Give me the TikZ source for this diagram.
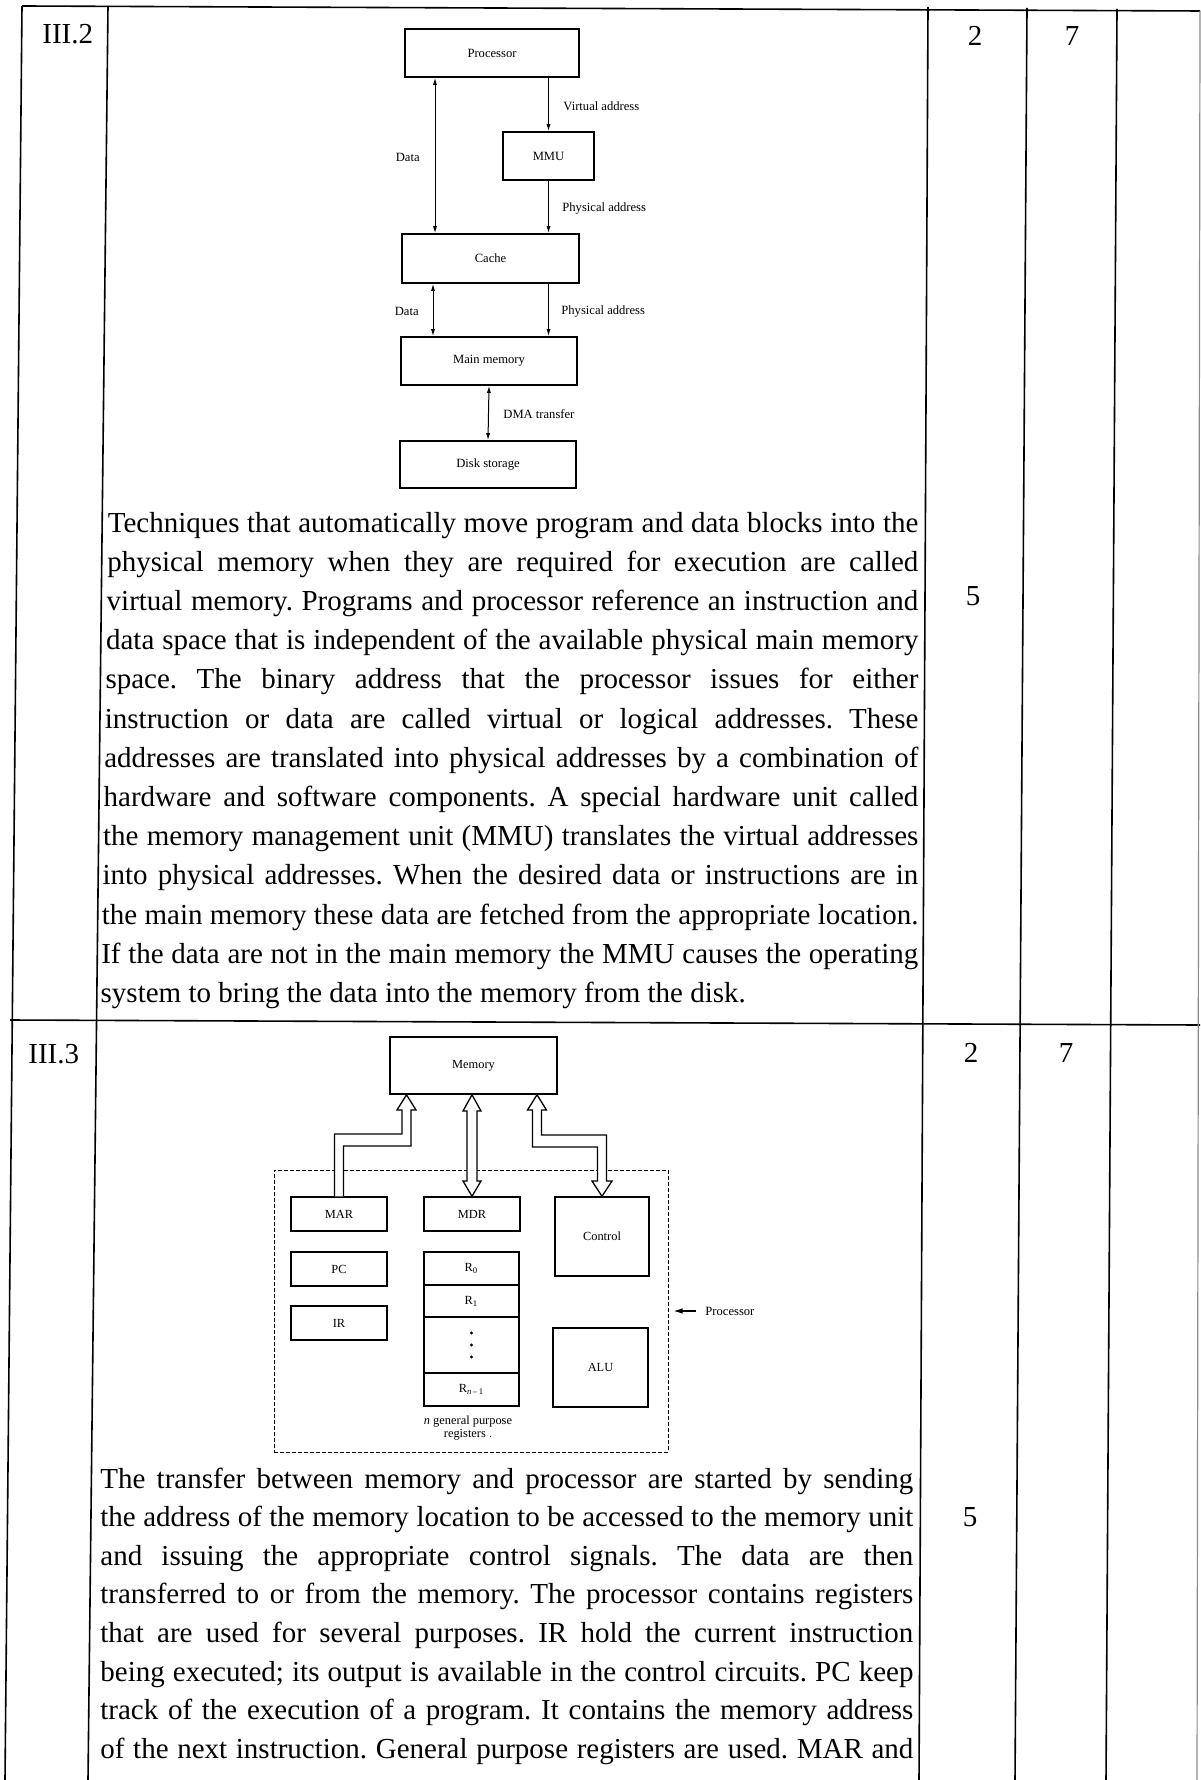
\documentclass[tikz,border=0pt]{standalone}
\usepackage{fontspec}
\setmainfont{Liberation Serif}
\usetikzlibrary{calc,arrows.meta}
\newcommand\jline[4]{\node[bodyline] (#1) at (#2) {\makebox[#3][s]{#4}};}
\begin{document}
\frenchspacing
\begin{tikzpicture}[x=0.5pt,y=-0.5pt,
  >={Latex[length=3.5pt,width=2pt]},
  bodyline/.style={font=\fontsize{14.5}{19}\selectfont, inner sep=0pt, anchor=base west},
  num/.style={font=\fontsize{14.5}{19}\selectfont, inner sep=0pt, anchor=base},
  tline/.style={line width=0.8pt, black},
  wpx/.style={minimum width=#1*0.5pt},
  hpx/.style={minimum height=#1*0.5pt},
  boxA/.style={draw, line width=0.8pt, inner sep=0pt, font=\fontsize{6.3}{7}\selectfont},
  boxB/.style={draw, line width=0.7pt, inner sep=0pt, font=\fontsize{6.2}{7}\selectfont},
  lab/.style={font=\fontsize{6.3}{7}\selectfont, inner sep=0pt},
  thinarr/.style={line width=0.5pt},
  barrow/.style={draw, fill=white, line width=0.65pt, line join=miter},
]
\fill[white] (0,0) rectangle (1200,1780);
\useasboundingbox (0,0) rectangle (1200,1780);

% ---------- table rules ----------
\draw[tline] (22,6) -- (1200,11);
\draw[tline] (10,1020) -- (1200,1025);
\draw[tline] (22,6) -- (5,1780);
\draw[tline] (108,6) -- (88,1780);
\draw[tline] (928,7) -- (919,1780);
\draw[tline] (1027,8) -- (1015,1780);
\draw[tline] (1117,9) -- (1106,1780);
\draw[line width=0.6pt, black!45] (1200,11) -- (1197,1780);

% ---------- left column and marks ----------
\node[bodyline] (t2) at (42,44) {III.2};
\node[bodyline] (t3) at (28,1063) {III.3};
\node[num] (m2a) at (975,46) {2};
\node[num] (m7a) at (1072,46) {7};
\node[num] (m5a) at (973,605) {5};
\node[num] (m2b) at (971,1062) {2};
\node[num] (m7b) at (1066,1062) {7};
\node[num] (m5b) at (970,1526) {5};

% ---------- diagram III.2 ----------
\node[boxA, wpx=174, hpx=48] (proc) at (492,53) {Processor};
\node[boxA, wpx=91, hpx=48] (mmu) at (548.5,156) {MMU};
\node[boxA, wpx=177, hpx=49] (cache) at (490.5,258.5) {Cache};
\node[boxA, wpx=176, hpx=48] (mainmem) at (489,361) {Main memory};
\node[boxA, wpx=176, hpx=47] (disk) at (488,464.5) {Disk storage};

\coordinate (xa) at (435,0);
\coordinate (xb) at (433,0);
\draw[thinarr, <->] (xa |- proc.south) -- (xa |- cache.north);
\draw[thinarr, ->] (mmu.north |- proc.south) -- (mmu.north);
\draw[thinarr, ->] (mmu.south) -- (mmu.south |- cache.north);
\draw[thinarr, <->] (xb |- cache.south) -- (xb |- mainmem.north);
\draw[thinarr, ->] (mmu.south |- cache.south) -- (mmu.south |- mainmem.north);
\draw[thinarr, <->] (mainmem.south) -- (disk.north);

\node[lab, anchor=west] (lva) at (563,106) {Virtual address};
\node[lab, anchor=east] (ld1) at (420,157) {Data};
\node[lab, anchor=west] (lpa1) at (562,208) {Physical address};
\node[lab, anchor=east] (ld2) at (419,311) {Data};
\node[lab, anchor=west] (lpa2) at (561,311) {Physical address};
\node[lab, anchor=west] (ldma) at (503,414) {DMA transfer};

% ---------- text III.2 ----------
\jline{a1}{107.5,532}{405.25pt}{Techniques that automatically move program and data blocks into the}
\jline{a2}{106.9,571.2}{405.55pt}{physical memory when they are required for execution are called}
\jline{a3}{106.3,610.4}{405.85pt}{virtual memory. Programs and processor reference an instruction and}
\jline{a4}{105.7,649.6}{406.15pt}{data space that is independent of the available physical main memory}
\jline{a5}{105.1,688.8}{406.45pt}{space. The binary address that the processor issues for either}
\jline{a6}{104.5,728}{406.75pt}{instruction or data are called virtual or logical addresses. These}
\jline{a7}{103.9,767.2}{407.05pt}{addresses are translated into physical addresses by a combination of}
\jline{a8}{103.3,806.4}{407.35pt}{hardware and software components. A special hardware unit called}
\jline{a9}{102.7,845.6}{407.65pt}{the memory management unit (MMU) translates the virtual addresses}
\jline{a10}{102.1,884.8}{407.95pt}{into physical addresses. When the desired data or instructions are in}
\jline{a11}{101.5,924}{408.25pt}{the main memory these data are fetched from the appropriate location.}
\jline{a12}{100.9,963.2}{408.55pt}{If the data are not in the main memory the MMU causes the operating}
\node[bodyline] (a13) at (100.3,1002.4) {system to bring the data into the memory from the disk.};

% ---------- diagram III.3 ----------
\node[draw, line width=0.5pt, dash pattern=on 2pt off 1pt, wpx=394, hpx=282] (procbox) at (471,1311) {};
\node[boxB, line width=0.8pt, wpx=167, hpx=57] (mem) at (473.5,1065.5) {Memory};
\node[boxB, wpx=96, hpx=34] (mar) at (339,1214) {MAR};
\node[boxB, wpx=96, hpx=34] (mdr) at (472,1214) {MDR};
\node[boxB, wpx=94, hpx=79] (ctrl) at (602,1236.5) {Control};
\node[boxB, wpx=96, hpx=34] (pc) at (339,1269) {PC};
\node[boxB, wpx=96, hpx=34] (ir) at (339,1323) {IR};
\node[boxB, wpx=95, hpx=33] (r0) at (471.5,1268.5) {R\textsubscript{0}};
\node[boxB, wpx=95, hpx=32] (r1) at (471.5,1301) {R\textsubscript{1}};
\node[boxB, wpx=95, hpx=56] (rdots) at (471.5,1345) {};
\node[boxB, wpx=95, hpx=33] (rn) at (471.5,1389.5) {R\textsubscript{\textit{n}\,--\,1}};
\node[boxB, wpx=95, hpx=79] (alu) at (600.5,1367.5) {ALU};
\fill (rdots.center) ++(0,-12) circle[radius=0.8pt];
\fill (rdots.center) circle[radius=0.8pt];
\fill (rdots.center) ++(0,12) circle[radius=0.8pt];
\node[lab, align=center, font=\fontsize{6.2}{6.4}\selectfont] (gpr) at (468,1428) {\textit{n} general purpose\\registers .};

% block arrows
\draw[barrow] ($(mar.north)+(-4.5,0)$) -- (334.5,1134) -- (402,1134) -- (402,1110) -- (397,1110)
  -- ($(mem.south)+(-67,0)$) -- (416,1110) -- (411,1110) -- (411,1146) -- (343.5,1146) -- ($(mar.north)+(4.5,0)$);
\draw[barrow] (mdr.north |- mem.south) -- (481,1111) -- (477,1111) -- (477,1181) -- (481,1181)
  -- (mdr.north) -- (463,1181) -- (467,1181) -- (467,1111) -- (463,1111) -- cycle;
\draw[barrow] ($(mem.south)+(63.5,0)$) -- (546.5,1110) -- (541.5,1110) -- (541.5,1135) -- (606.5,1135)
  -- (606.5,1181) -- (612,1181) -- (ctrl.north) -- (592,1181) -- (597.5,1181) -- (597.5,1147)
  -- (532.5,1147) -- (532.5,1110) -- (527.5,1110) -- cycle;

\node[lab, anchor=west] (plab) at (705,1311) {Processor};
\draw[line width=0.6pt, -{Latex[length=4.5pt,width=2.8pt]}] ($(plab.west)+(-9,0)$) -- ($(procbox.east)+(5,0)$);

% ---------- text III.3 ----------
\jline{b1}{100,1488}{406.5pt}{The transfer between memory and processor are started by sending}
\jline{b2}{100,1526.6}{406.5pt}{the address of the memory location to be accessed to the memory unit}
\jline{b3}{100,1565.2}{406.5pt}{and issuing the appropriate control signals. The data are then}
\jline{b4}{100,1603.8}{406.5pt}{transferred to or from the memory. The processor contains registers}
\jline{b5}{100,1642.4}{406.5pt}{that are used for several purposes. IR hold the current instruction}
\jline{b6}{100,1681}{406.5pt}{being executed; its output is available in the control circuits. PC keep}
\jline{b7}{100,1719.6}{406.5pt}{track of the execution of a program. It contains the memory address}
\jline{b8}{100,1758.2}{406.5pt}{of the next instruction. General purpose registers are used. MAR and}
\end{tikzpicture}
\end{document}
